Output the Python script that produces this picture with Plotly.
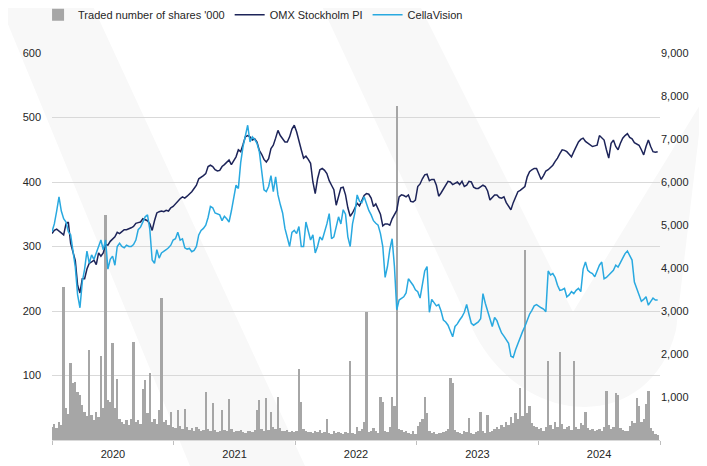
import pandas as pd
import plotly.graph_objects as go

# weekly readings, first week starting 2020-01-01
omx = [
    320, 325, 327, 324, 322, 318, 335, 338, 305, 290, 278, 240, 228, 250, 250, 265, 274, 276, 279, 272,
    290, 285, 290, 303, 302, 308, 312, 315, 322, 320, 323, 326, 326, 327, 329, 331, 336, 337, 338, 343,
    342, 340, 335, 325, 340, 352, 354, 355, 354, 356, 355, 360, 362,
    366, 371, 374, 377, 375, 378, 381, 385, 390, 395,
    405, 407, 410, 413, 424, 426, 424, 419, 417, 418,
    424, 427, 431, 434, 427, 433, 439, 450, 447, 458,
    470, 472, 470, 465, 467, 462, 449, 443, 435, 431,
    436, 452, 457, 468, 480, 472, 466, 462, 462, 470,
    482, 488, 478, 462, 450, 437, 440, 435, 429, 400,
    382, 405, 419, 421, 418, 413, 402, 395, 388, 364,
    380, 391, 392, 380, 360, 347, 352, 360, 367, 363,
    372, 379, 382, 381, 375, 362, 366, 358, 350, 332,
    335, 335, 333, 343, 350, 356, 377, 380, 379, 377,
    380, 370, 369, 372, 393, 397, 405, 411, 412, 402,
    404, 404, 395, 378, 383, 389, 395, 401, 400, 396,
    398, 400, 396, 401, 393, 395, 401, 400, 392, 390,
    390, 393, 395, 393, 386, 372, 376, 380, 380, 376,
    375, 377, 368, 362, 357, 368, 377, 385, 387, 390,
    393, 408, 416, 419, 421, 421, 413, 404, 410, 417,
    419, 423, 426, 432, 437, 444, 450, 449, 447, 443,
    439, 447, 455, 462, 466, 468, 463, 460, 458, 455,
    456, 457, 472, 468, 465, 450, 437, 460, 465, 455,
    450, 460, 468, 472, 475, 469, 467, 461, 459, 457,
    450, 442, 455, 465, 455, 447, 446, 447,
]

cellavision = [
    323, 335, 355, 377, 355, 343, 338, 323, 318, 292, 268, 225, 205, 245, 265, 293, 274, 287, 280, 290,
    300, 310, 295, 310, 265, 280, 285, 271, 300, 305, 300, 298, 302, 300, 300, 303, 310, 326, 330, 338,
    346, 349, 326, 279, 274, 295, 282, 290, 292, 295, 298, 302, 310,
    312, 322, 310, 312, 298, 296, 297, 292, 294, 300,
    318, 325, 328, 333, 345, 362, 360, 352, 351, 349,
    340, 347, 343, 338, 355, 375, 395, 390, 430, 455,
    473, 488, 462, 470, 466, 460, 447, 420, 388, 385,
    393, 410, 385, 408, 380, 365, 352, 328, 315, 300,
    322, 325, 320, 331, 300, 300, 338, 322, 310, 318,
    290, 300, 315, 310, 322, 335, 351, 312, 315, 330,
    346, 335, 357, 350, 315, 300, 335, 352, 380, 370,
    368, 377, 365, 356, 349, 340, 336, 333, 320, 300,
    252, 269, 295, 312, 269, 202, 217, 220, 222, 228,
    250, 245, 240, 233, 230, 220, 243, 262, 269, 198,
    218, 212, 208, 210, 200, 186, 183, 178, 168, 160,
    176, 180, 186, 191, 198, 210, 195, 181, 178, 181,
    183, 188, 227, 212, 200, 185, 176, 190, 185, 175,
    166, 161, 155, 150, 130, 128, 140, 150, 160, 168,
    176, 186, 195, 201, 208, 210, 207, 205, 203, 199,
    262, 256, 258, 252, 240, 232, 233, 235, 222, 225,
    230, 227, 232, 235, 230, 265, 276, 263, 260, 258,
    253, 262, 271, 276, 250, 252, 256, 260, 263, 271,
    268, 275, 282, 289, 293, 285, 279, 245, 235, 228,
    215, 218, 222, 209, 215, 220, 217, 217,
]

# traded number of shares, '000
volume = [
    300, 380, 280, 420, 360, 3560, 740, 600, 1790, 1320,
    1360, 1120, 1040, 810, 650, 560, 2090, 580, 470, 650,
    540, 1950, 740, 5230, 930, 890, 2260, 740, 1410, 500,
    420, 380, 470, 360, 500, 2290, 420, 470, 380, 1190,
    1400, 620, 1550, 420, 500, 380, 700, 3300, 420, 470,
    350, 650, 300, 280, 700, 320, 260, 710, 300, 240,
    280, 220, 310, 250, 200, 230, 1120, 260, 200, 850,
    230, 190, 210, 700, 240, 200, 950, 260, 180, 210,
    200, 240, 190, 170, 220, 200, 180, 240, 700, 930,
    260, 200, 970, 230, 660, 300, 250, 1000, 280, 220,
    200, 240, 190, 210, 180, 200, 1640, 890, 260, 220,
    190, 180, 170, 200, 180, 240, 160, 190, 500, 170,
    150, 200, 160, 180, 170, 150, 190, 160, 1840, 160,
    140, 300, 200, 260, 420, 2980, 180, 200, 280, 200,
    160, 1010, 890, 220, 180, 300, 1010, 790, 7770, 260,
    240, 180, 200, 160, 140, 210, 150, 330, 430, 480,
    1000, 630, 200, 160, 180, 150, 170, 160, 190, 200,
    250, 1440, 1320, 230, 180, 160, 150, 200, 190, 510,
    170, 150, 180, 210, 660, 200, 170, 580, 180, 210,
    260, 300, 250, 350, 300, 420, 350, 540, 400, 620,
    480, 1200, 560, 4420, 620, 780, 400, 330, 300, 250,
    280, 220, 300, 1840, 350, 260, 420, 300, 2050, 380,
    250, 300, 330, 230, 1840, 300, 250, 400, 350, 640,
    280, 230, 260, 200, 230, 250, 210, 300, 1140, 350,
    250, 300, 1090, 1050, 280, 230, 220, 200, 320, 450,
    400, 970, 780, 420, 500, 830, 1150, 270, 200, 150,
    120,
]

price_ticks = [100, 200, 300, 400, 500, 600]
volume_ticks = [1000, 2000, 3000, 4000, 5000, 6000, 7000, 8000, 9000]

weeks = pd.date_range("2020-01-01", periods=len(omx), freq="7D")

FONT = "Liberation Sans, Arial, sans-serif"

fig = go.Figure()
fig.add_trace(go.Bar(x=weeks, y=volume, name="Traded number of shares '000",
                     marker=dict(color="#a6a6a6", line=dict(width=0)), yaxis="y"))
fig.add_trace(go.Scatter(x=weeks, y=omx, name="OMX Stockholm PI", mode="lines",
                         line=dict(color="#1d2459", width=1.5), yaxis="y2"))
fig.add_trace(go.Scatter(x=weeks, y=cellavision, name="CellaVision", mode="lines",
                         line=dict(color="#29a9e0", width=1.5), yaxis="y2"))


# background watermark, given in pixels of the 707x466 window
def pp(x, y):
    return f"{(x - 52) / 608:.4f},{(440 - y) / 387:.4f}"


stripe = "M" + pp(-2, 0) + " L" + pp(90, 0) + " L" + pp(305, 466) + " L" + pp(190, 466) + " Z"
vee = ("M" + pp(319, 0) + " L" + pp(473, 330) + " C" + pp(522, 430) + " " + pp(650, 435)
       + " " + pp(676, 330) + " L" + pp(703, 100) + " L" + pp(573, 312) + " L" + pp(417, 0) + " Z")

for d in [stripe, vee]:
    fig.add_shape(type="path", path=d, xref="paper", yref="paper", layer="below",
                  fillcolor="#f8f8f8", line=dict(width=0))

# page body has an 8px margin, so the figure is 8px smaller each way
fig.update_layout(
    width=699, height=458,
    margin=dict(l=44, r=47, t=45, b=26, autoexpand=False),
    paper_bgcolor="white", plot_bgcolor="rgba(0,0,0,0)",
    font=dict(family=FONT, size=11, color="#262626"),
    bargap=0,
    showlegend=True,
    legend=dict(orientation="h", xref="container", yref="container",
                x=0.043, xanchor="left", y=0.985, yanchor="middle",
                font=dict(size=11, color="#262626"), bgcolor="rgba(0,0,0,0)",
                traceorder="normal"),
    xaxis=dict(type="date", range=["2020-01-01", "2025-01-01"], dtick="M12",
               tick0="2020-01-01", tickformat="%Y", ticklabelmode="period",
               ticks="outside", ticklen=4, tickcolor="#bfbfbf", showgrid=False,
               showline=True, linecolor="#d9d9d9", linewidth=1, zeroline=False,
               automargin=False),
    yaxis=dict(range=[0, 9000], side="right", tickvals=volume_ticks, tickformat=",",
               showgrid=False, zeroline=False, showline=False, ticks="",
               automargin=False),
    yaxis2=dict(range=[0, 600], side="left", overlaying="y", tickvals=price_ticks,
                showgrid=True, gridcolor="#d9d9d9", gridwidth=1, zeroline=False,
                showline=False, ticks="", automargin=False, ticklabelstandoff=10),
    hovermode=False,
)

fig.write_html("out.html")
